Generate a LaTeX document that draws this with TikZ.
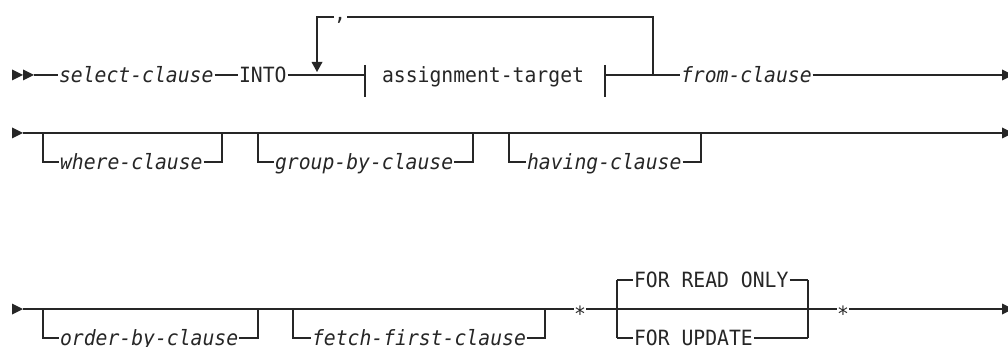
\documentclass[tikz,border=0pt]{standalone}
\usepackage{fontspec}
\newfontfamily\railfont[FakeStretch=0.94]{DejaVu Sans Mono}
\definecolor{ink}{HTML}{262626}
\begin{document}
\begin{tikzpicture}[x=1pt,y=-1pt,
  rail/.style={draw=ink, line width=1.4pt},
  lbl/.style={inner sep=0pt, outer sep=1pt, anchor=west, text height=15pt, text depth=0pt,
              text=ink, font={\railfont\fontsize{21}{22}\selectfont}},
  var/.style={lbl, font={\railfont\itshape\fontsize{21}{22}\selectfont}},
  sym/.style={inner sep=0pt, anchor=base, text=ink, font={\railfont\fontsize{21}{22}\selectfont}},
  tip/.style={fill=ink, draw=none}]
\clip (0,0) rectangle (1008,347);

% ---------- row 1 ----------
\fill[tip] (12,69.5) -- (23,75) -- (12,80.5) -- cycle;
\fill[tip] (23,69.5) -- (34,75) -- (23,80.5) -- cycle;
\coordinate (r1s) at (34,75);
\node[var] (sel) at (58,75) {select-clause};
\node[lbl] (into) at (238,75) {INTO};
\coordinate (lj) at (317,75);
\coordinate (bl) at (365,75);
\node[lbl] (at) at (381,75) {assignment-target};
\coordinate (br) at (605,75);
\coordinate (rj) at (653,75);
\node[var] (from) at (680,75) {from-clause};
\coordinate (e1) at (1003,75);
\draw[rail] (r1s) -- (sel);
\draw[rail] (sel) -- (into);
\draw[rail] (into) -- (bl);
\draw[rail] (br) -- (rj) -- (from);
\draw[rail] (from) -- (e1);
\fill[tip] (1002,69.5) -- (1013,75) -- (1002,80.5) -- cycle;
% fragment bars
\draw[rail] ([yshift=10pt]bl) -- ([yshift=-22pt]bl);
\draw[rail] ([yshift=10pt]br) -- ([yshift=-22pt]br);
% repeat loop
\coordinate (lt) at (317,17);
\coordinate (rt) at (653,17);
\coordinate (ca) at (334,17);
\coordinate (cb) at (347,17);
\node[sym] (cm) at (340,21) {,};
\draw[rail] (rj) -- (rt) -- (cb);
\draw[rail] (ca) -- (lt) -- (317,62);
\fill[tip] (311.5,62) -- (322.5,62) -- (317,72) -- cycle;

% ---------- row 2 ----------
\fill[tip] (12,127.5) -- (23,133) -- (12,138.5) -- cycle;
\coordinate (r2s) at (23,133);
\coordinate (e2) at (1003,133);
\draw[rail] (r2s) -- (e2);
\fill[tip] (1002,127.5) -- (1013,133) -- (1002,138.5) -- cycle;
% where
\coordinate (wa) at (43,133); \coordinate (wb) at (43,162);
\node[var] (where) at (59,162) {where-clause};
\coordinate (wc) at (222,162); \coordinate (wd) at (222,133);
\draw[rail] (wa) -- (wb) -- (where);
\draw[rail] (where) -- (wc) -- (wd);
% group by
\coordinate (ga) at (258,133); \coordinate (gb) at (258,162);
\node[var] (group) at (274,162) {group-by-clause};
\coordinate (gc) at (473,162); \coordinate (gd) at (473,133);
\draw[rail] (ga) -- (gb) -- (group);
\draw[rail] (group) -- (gc) -- (gd);
% having
\coordinate (ha) at (509,133); \coordinate (hb) at (509,162);
\node[var] (having) at (526,162) {having-clause};
\coordinate (hc) at (701,162); \coordinate (hd) at (701,133);
\draw[rail] (ha) -- (hb) -- (having);
\draw[rail] (having) -- (hc) -- (hd);

% ---------- row 3 ----------
\fill[tip] (12,303.5) -- (23,309) -- (12,314.5) -- cycle;
\coordinate (r3s) at (23,309);
% order by
\coordinate (oa) at (43,309); \coordinate (ob) at (43,338);
\node[var] (order) at (59,338) {order-by-clause};
\coordinate (oc) at (258,338); \coordinate (od) at (258,309);
\draw[rail] (oa) -- (ob) -- (order);
\draw[rail] (order) -- (oc) -- (od);
% fetch first
\coordinate (fa) at (293,309); \coordinate (fb) at (293,338);
\node[var] (fetch) at (311,338) {fetch-first-clause};
\coordinate (fc) at (545,338); \coordinate (fd) at (545,309);
\draw[rail] (fa) -- (fb) -- (fetch);
\draw[rail] (fetch) -- (fc) -- (fd);
% stars and choice
\node[sym] (st1) at (580,321) {*};
\node[sym] (st2) at (843,321) {*};
\coordinate (s1a) at (574,309); \coordinate (s1b) at (586,309);
\coordinate (s2a) at (837,309); \coordinate (s2b) at (849,309);
\coordinate (ct1) at (617,280); \coordinate (cu1) at (617,338);
\coordinate (ct2) at (808,280); \coordinate (cu2) at (808,338);
\node[lbl] (fro) at (633,280) {FOR READ ONLY};
\node[lbl] (fup) at (633,338) {FOR UPDATE};
\draw[rail] (r3s) -- (s1a);
\draw[rail] (s1b) -- (s2a);
\draw[rail] (s2b) -- (1003,309);
\fill[tip] (1002,303.5) -- (1013,309) -- (1002,314.5) -- cycle;
\draw[rail] (ct1) -- (cu1);
\draw[rail] (ct2) -- (cu2);
\draw[rail] (ct1) -- (fro);
\draw[rail] (fro) -- (ct2);
\draw[rail] (cu1) -- (fup);
\draw[rail] (fup) -- (cu2);
\end{tikzpicture}
\end{document}
